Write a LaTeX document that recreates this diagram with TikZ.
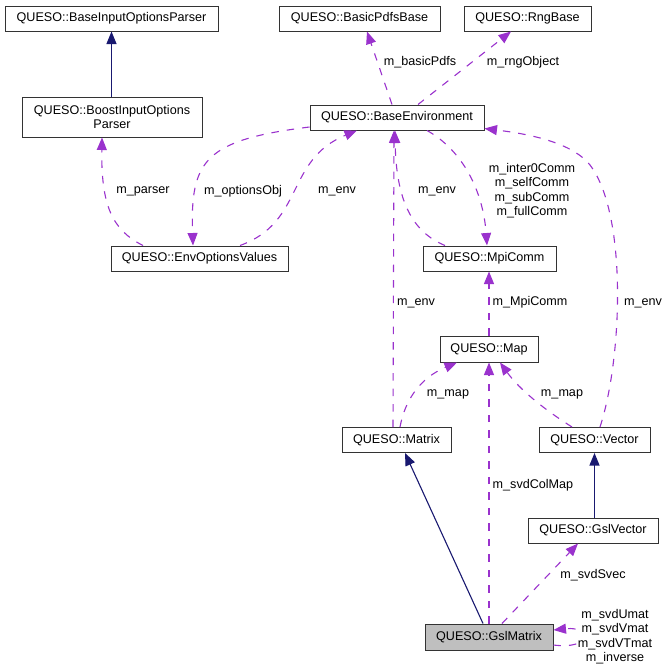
\documentclass[tikz,border=0pt]{standalone}
\usepackage{fontspec}
\setmainfont{Liberation Sans}
\usetikzlibrary{arrows.meta}
\definecolor{edgepurple}{HTML}{9A32CD}
\definecolor{inhnavy}{HTML}{191970}
\definecolor{boxgray}{HTML}{BFBFBF}
\begin{document}
\begin{tikzpicture}[x=1pt,y=-1pt,
  font=\fontsize{12.6}{14.5}\selectfont,
  box/.style={draw=black!80, fill=white, line width=1pt, inner sep=0pt, minimum height=25pt},
  rel/.style={draw=edgepurple, line width=1.1pt, dash pattern=on 7.5pt off 8pt, -{Triangle[length=12.5pt,width=10pt]}},
  inh/.style={draw=inhnavy, line width=1.1pt, -{Triangle[length=12.5pt,width=10pt]}},
  lbl/.style={inner sep=0pt, align=center}]
\useasboundingbox (0,0) rectangle (668,672);

% nodes
\node[box, minimum width=213pt] (bip) at (111.5,18.5) {QUESO::BaseInputOptionsParser};
\node[box, minimum width=180pt, minimum height=40pt, align=center] (boost) at (112,117) {QUESO::BoostInputOptions\\Parser};
\node[box, minimum width=177pt] (env) at (199.5,258.5) {QUESO::EnvOptionsValues};
\node[box, minimum width=174pt] (base) at (397,117.5) {QUESO::BaseEnvironment};
\node[box, minimum width=161pt] (pdfs) at (359.5,18.5) {QUESO::BasicPdfsBase};
\node[box, minimum width=127pt] (rng) at (527.5,18.5) {QUESO::RngBase};
\node[box, minimum width=133pt] (mpi) at (489.5,258.5) {QUESO::MpiComm};
\node[box, minimum width=98pt, minimum height=26pt] (map) at (489,349) {QUESO::Map};
\node[box, minimum width=109pt] (matrix) at (396.5,440) {QUESO::Matrix};
\node[box, minimum width=111pt] (vector) at (594.5,440) {QUESO::Vector};
\node[box, minimum width=130pt] (gslvec) at (593,530.5) {QUESO::GslVector};
\node[box, minimum width=128pt, minimum height=26pt, fill=boxgray] (gslmat) at (489,637) {QUESO::GslMatrix};

% inheritance
\draw[inh] (boost.north -| bip.south) -- (bip.south);
\draw[inh] ([xshift=-6pt]gslmat.north) -- ([xshift=8.5pt]matrix.south);
\draw[inh] (vector.south |- gslvec.north) -- (vector.south);

% usage relations
\draw[rel] ([xshift=-56.5pt]env.north) .. controls (112,230) and (101,205) .. ([xshift=-10pt]boost.south);
\draw[rel] ([yshift=-9.5pt]base.west) .. controls (205,140) and (190,160) .. ([xshift=-6.5pt]env.north);
\draw[rel] ([xshift=40.5pt]env.north) .. controls (305,222) and (285,160) .. ([xshift=-40pt]base.south);
\draw[rel] ([xshift=-5pt]base.north) -- ([xshift=7.5pt]pdfs.south);
\draw[rel] ([xshift=21pt]base.north) -- ([xshift=-16.5pt]rng.south);
\draw[rel] ([xshift=30pt]base.south) .. controls (462,150) and (483,190) .. ([xshift=-2.5pt]mpi.north);
\draw[rel] ([xshift=-44.5pt]mpi.north) .. controls (412,232) and (396,200) .. ([xshift=-2pt]base.south);
\draw[rel] ([xshift=-3.5pt]matrix.north) -- ([xshift=-3pt]base.south);
\draw[rel] ([xshift=5.5pt]vector.north) .. controls (622,360) and (628,215) .. (590,165) .. controls (570,140) and (520,133) .. ([yshift=-11pt]base.east);
\draw[rel] (map.north) -- (map.north |- mpi.south);
\draw[rel] ([xshift=3.5pt]matrix.north) .. controls (405,400) and (420,378) .. ([xshift=-32pt]map.south);
\draw[rel] ([xshift=-22.5pt]vector.north) .. controls (545,410) and (520,390) .. ([xshift=11pt]map.south);
\draw[rel] (gslmat.north) -- (map.south);
\draw[rel] ([xshift=13pt]gslmat.north) -- ([xshift=-15pt]gslvec.south);
\draw[rel] ([yshift=-8pt]gslmat.east) .. controls (592,650) and (592,626) .. ([yshift=7pt]gslmat.east);

% labels
\node[lbl] (lparser) at (143,191) {m\_parser};
\node[lbl] (loptions) at (243,191) {m\_optionsObj};
\node[lbl] (lenv1) at (337,191) {m\_env};
\node[lbl] (lenv2) at (437,191) {m\_env};
\node[lbl] (lpdfs) at (420,62) {m\_basicPdfs};
\node[lbl] (lrng) at (523,62) {m\_rngObject};
\node[lbl] (lcomm) at (532,190.5) {m\_inter0Comm\\m\_selfComm\\m\_subComm\\m\_fullComm};
\node[lbl] (lenv3) at (416,303) {m\_env};
\node[lbl] (lmpi) at (530,302) {m\_MpiComm};
\node[lbl] (lenv4) at (643,303) {m\_env};
\node[lbl] (lmap1) at (448,394) {m\_map};
\node[lbl] (lmap2) at (562,394) {m\_map};
\node[lbl] (lcol) at (533,485) {m\_svdColMap};
\node[lbl] (lsvec) at (593,575) {m\_svdSvec};
\node[lbl, fill=white] (lself) at (615,636.5) {m\_svdUmat\\m\_svdVmat\\m\_svdVTmat\\m\_inverse};
\end{tikzpicture}
\end{document}
